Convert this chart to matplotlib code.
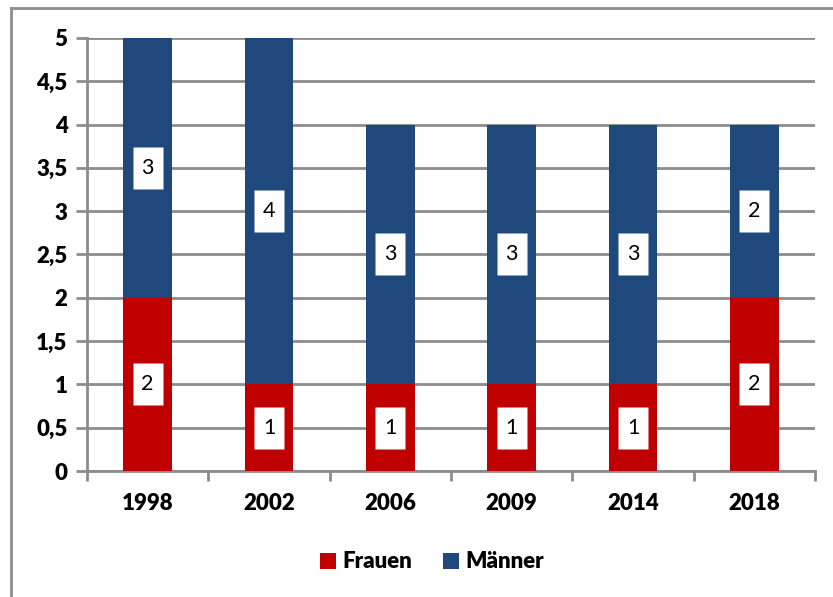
import numpy as np
import matplotlib.pyplot as plt
from matplotlib.lines import Line2D

# Daten
jahre = ['1998', '2002', '2006', '2009', '2014', '2018']
frauen = [2, 1, 1, 1, 1, 2]
maenner = [3, 4, 3, 3, 3, 2]
yticks = [0, 0.5, 1, 1.5, 2, 2.5, 3, 3.5, 4, 4.5, 5]

rot = '#C00000'
blau = '#1F497D'
grau = '#8C8C8C'

plt.rcParams['font.family'] = ['Lato', 'DejaVu Sans']

W, H = 833, 597
fig = plt.figure(figsize=(W / 100, H / 100), dpi=100)
ax = fig.add_axes([87 / W, 1 - 471 / H, (815 - 87) / W, (471 - 38) / H])

x = np.arange(len(jahre))
b1 = ax.bar(x, frauen, width=0.4, color=rot, label='Frauen', zorder=3)
b2 = ax.bar(x, maenner, width=0.4, bottom=frauen, color=blau, label='Männer', zorder=3)

# Werte in weißen Kästchen (Kästchen ca. 30x42 px)
kasten = [(-15, -21), (15, -21), (15, 21), (-15, 21)]
for werte, unten in [(frauen, [0] * len(jahre)), (maenner, frauen)]:
    mitte = [u + v / 2 for u, v in zip(unten, werte)]
    ax.plot(x, mitte, ls='none', marker=kasten, ms=42 * 0.72, color='white',
            mec='none', zorder=4)
    for xi, yi, v in zip(x, mitte, werte):
        ax.text(xi, yi, str(v), ha='center', va='center', fontsize=15.5,
                color='black', zorder=5)

ax.set_xlim(-0.5, len(jahre) - 0.5)
ax.set_ylim(0, 5)
ax.set_yticks(yticks)
ax.set_yticklabels([('%g' % v).replace('.', ',') for v in yticks],
                   fontsize=16, fontweight='heavy')
ax.set_xticks(x)
ax.set_xticklabels(jahre, fontsize=16, fontweight='heavy')
ax.tick_params(axis='x', length=0, pad=16)
ax.tick_params(axis='y', length=8, color=grau, width=2, pad=6)

# Kategorie-Trennstriche unten
ax.set_xticks(np.arange(-0.5, len(jahre)), minor=True)
ax.tick_params(axis='x', which='minor', length=7, color=grau, width=2)

ax.grid(axis='y', color=grau, linewidth=2, zorder=0)
for s in ['top', 'right']:
    ax.spines[s].set_visible(False)
for s in ['left', 'bottom']:
    ax.spines[s].set_color(grau)
    ax.spines[s].set_linewidth(2)

leg = fig.legend(handles=[b1, b2], loc='center', bbox_to_anchor=(432 / W, 1 - 562 / H),
                 ncol=2, frameon=False, handlelength=0.7, handleheight=0.7,
                 handletextpad=0.3, columnspacing=1.4,
                 prop={'size': 16, 'weight': 'heavy'})

# Rahmen (links und oben sichtbar)
fig.add_artist(Line2D([11 / W, 11 / W], [0, 1 - 8 / H], color=grau, linewidth=2,
                      transform=fig.transFigure))
fig.add_artist(Line2D([11 / W, 1], [1 - 8 / H, 1 - 8 / H], color=grau, linewidth=2,
                      transform=fig.transFigure))

fig.savefig('out.png', dpi=100)
